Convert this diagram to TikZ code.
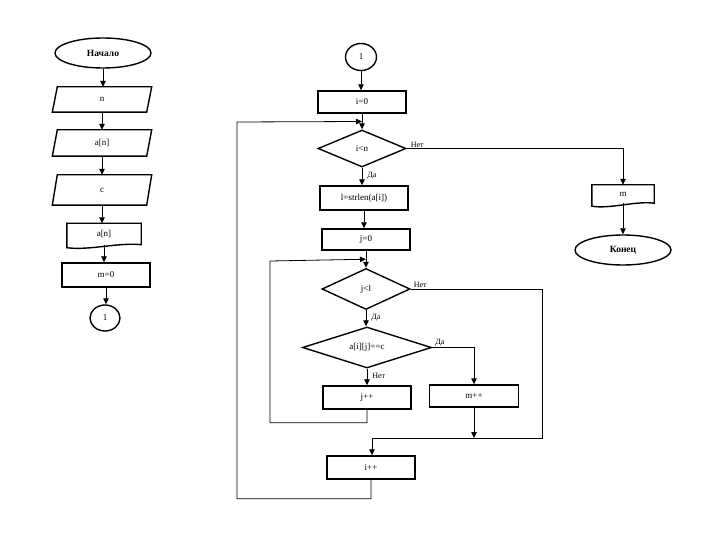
\documentclass[tikz,border=0pt]{standalone}
\usepackage{fontspec}
\setmainfont{Liberation Serif}
\usetikzlibrary{shapes.geometric,arrows.meta,calc}
\newcommand\myparal[4]{%
  \node[minimum width=94pt, minimum height=#3] (#1) at (#2) {#4};
  \draw[shapeline] ($(#1.north west)+(2.5,0)$) -- ($(#1.north east)+(2.5,0)$) -- ($(#1.south east)+(-2.5,0)$) -- ($(#1.south west)+(-2.5,0)$) -- cycle;}
\newcommand\mydoc[5]{%
  \node[minimum width=#3, minimum height=#4] (#1) at (#2) {#5};
  \draw[shapeline] ($(#1.south west)+(0,3)$) -- (#1.north west) -- (#1.north east) -- (#1.south east)
    .. controls ($(#1.south east)+(-0.3*#3,-2.5)$) and ($(#1.south west)+(0.3*#3,6)$) .. ($(#1.south west)+(0,3)$) -- cycle;}
\begin{document}
\begin{tikzpicture}[x=1pt,y=-1pt,
  every node/.style={font=\fontsize{9}{10}\selectfont, inner sep=0pt},
  shapeline/.style={draw, line width=1.4pt, line join=miter},
  box/.style={shapeline, minimum width=88pt, minimum height=23pt},
  term/.style={shapeline, ellipse, minimum width=96pt, minimum height=30pt, font=\fontsize{9.5}{11}\selectfont\bfseries},
  conn/.style={shapeline, ellipse, minimum width=31pt, minimum height=27pt},
  dec/.style={shapeline, diamond, aspect=3},
  arr/.style={line width=0.8pt, -{Triangle[width=5.5pt,length=6pt]}},
  ln/.style={line width=0.8pt},
  lbl/.style={font=\fontsize{8}{9}\selectfont}
]
\useasboundingbox[fill=white] (0,0) rectangle (720,540);

% left column
\node[term] (sta) at (103,53) {Начало};
\myparal{in1}{102,99.5}{25pt}{n}
\myparal{in2}{102,143}{26pt}{a[n]}
\myparal{in3}{102,190}{30pt}{c}
\mydoc{out1}{104,234}{74pt}{21pt}{a[n]}
\node[box, minimum height=24pt] (m0) at (106,275) {m=0};
\node[conn, minimum width=30pt, minimum height=26pt] (c1) at (105,318) {1};

\draw[arr] (sta.south) -- (sta.south |- in1.north);
\draw[arr] (in1.south) -- (in1.south |- in2.north);
\draw[arr] (in2.south) -- (in2.south |- in3.north);
\draw[arr] (in3.south) -- (in3.south |- out1.north);
\draw[arr] (out1.south) -- (out1.south |- m0.north);
\draw[arr] (m0.south) -- (m0.south |- c1.north);

% right column
\node[conn] (c2) at (361,57) {1};
\node[box, minimum height=22pt] (i0) at (362,102) {i=0};
\node[dec, minimum width=88pt, minimum height=37pt] (d1) at (362,148.5) {i<n};
\node[box, minimum height=24pt] (b1) at (364,198) {l=strlen(a[i])};
\node[box, minimum height=21pt] (b2) at (366,239.5) {j=0};
\node[dec, minimum width=88pt, minimum height=41pt] (d2) at (366,289) {j<l};
\node[dec, minimum width=129pt, minimum height=41pt] (d3) at (367,347.5) {a[i][j]==c};
\node[box, minimum height=23pt] (jpp) at (367,397.5) {j++};
\node[box, minimum width=89pt, minimum height=22pt] (mpp) at (474,396) {m++};
\node[box, minimum height=23pt] (ipp) at (371,467.5) {i++};
\mydoc{mout}{623,194}{62pt}{18pt}{m}
\node[term] (fin) at (623,250) {Конец};

\coordinate (j1) at ($(i0.south)!0.5!(i0.south |- d1.north)$);
\coordinate (j2) at ($(b2.south)!0.5!(b2.south |- d2.north)$);
\coordinate (j3) at (474,438);
\coordinate (j4) at (372,438);

\draw[arr] (c2.south) -- (c2.south |- i0.north);
\draw[arr] (i0.south) -- (i0.south |- d1.north);
\draw[arr] (d1.south) -- (d1.south |- b1.north)
  node[lbl, pos=0.45, anchor=west, xshift=5pt] {Да};
\draw[arr] (b1.south) -- (b1.south |- b2.north);
\draw[arr] (b2.south) -- (b2.south |- d2.north);
\draw[arr] (d2.south) -- (d2.south |- d3.north)
  node[lbl, pos=0.45, anchor=west, xshift=5pt] {Да};
\draw[arr] (d3.south) -- (d3.south |- jpp.north)
  node[lbl, pos=0.45, anchor=west, xshift=5pt] {Нет};
\draw[arr] (d3.east) -- (d3.east -| mpp.north) -- (mpp.north);
\node[lbl, anchor=south west] at ($(d3.east)+(3,-1)$) {Да};
\draw[arr] (jpp.south) -- ++(0,13) -| (270,261) -- (j2);
\draw[arr] (mpp.south) -- (j3);
\draw[arr] (d2.east) -| (542,438) -- (j4) -- (j4 |- ipp.north);
\node[lbl, anchor=south west] at ($(d2.east)+(3,-1)$) {Нет};
\draw[arr] (ipp.south) -- ++(0,19) -| (237,122) -- (j1);
\draw[arr] (d1.east) -| (mout.north);
\node[lbl, anchor=south west] at ($(d1.east)+(4,-1)$) {Нет};
\draw[arr] (mout.south) -- (mout.south |- fin.north);
\end{tikzpicture}
\end{document}
